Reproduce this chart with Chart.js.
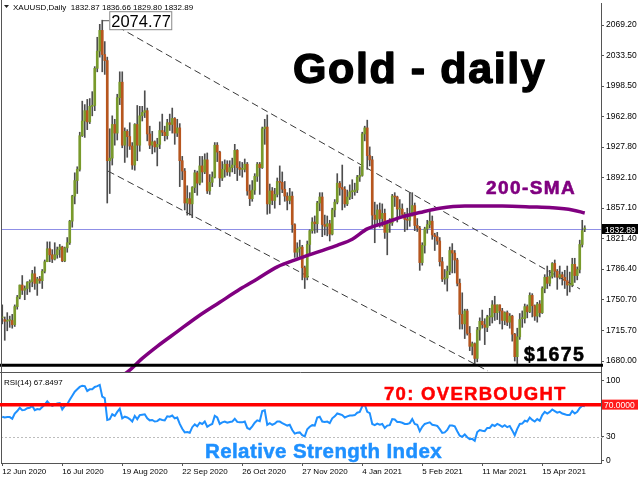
<!DOCTYPE html>
<html>
<head>
<meta charset="utf-8">
<title>Gold - daily</title>
<script src="https://cdn.jsdelivr.net/npm/chart.js@4.4.0/dist/chart.umd.min.js"></script>
<style>
  html, body { margin: 0; padding: 0; background: #fff; }
  #wrap { position: relative; width: 640px; height: 480px; overflow: hidden; }
  canvas { position: absolute; left: 0; }
  #priceChart { top: 0; }
  #rsiChart { top: 372px; }
</style>
</head>
<body>
<div id="wrap">
  <canvas id="priceChart" width="640" height="374"></canvas>
  <canvas id="rsiChart" width="640" height="108"></canvas>
</div>
<script>
// x axis: one label every 24 daily bars, starting at the first bar
var tickLabels = ['12 Jun 2020', '16 Jul 2020', '19 Aug 2020', '22 Sep 2020', '26 Oct 2020',
  '27 Nov 2020', '4 Jan 2021', '5 Feb 2021', '11 Mar 2021', '15 Apr 2021'];
var barsPerLabel = 24;
var slots = 240; // bar slots in the window (last few are the empty shift on the right)

// XAUUSD daily candles, 12 Jun 2020 .. 10 May 2021 (one line per week)
var opens = [
  1730,
  1728, 1726, 1727, 1727, 1722,
  1743, 1754, 1768, 1762, 1764,
  1771, 1772, 1781, 1770, 1775,
  1773, 1784, 1795, 1810, 1803,
  1798, 1803, 1809, 1812, 1796,
  1811, 1817, 1842, 1871, 1889,
  1902, 1941, 1958, 1970, 1957,
  1975, 1976, 2019, 2039, 2063,
  2035, 2028, 1912, 1915, 1954,
  1944, 1985, 2003, 1930, 1946,
  1940, 1929, 1907, 1954, 1930,
  1964, 1968, 1970, 1943, 1930,
  1934, 1928, 1931, 1947, 1945,
  1941, 1956, 1954, 1961, 1944,
  1950, 1912, 1900, 1863, 1868,
  1862, 1881, 1898, 1886, 1906,
  1899, 1913, 1877, 1887, 1893,
  1930, 1922, 1892, 1902, 1908,
  1899, 1904, 1907, 1924, 1904,
  1902, 1902, 1908, 1877, 1868,
  1878, 1894, 1908, 1904, 1949,
  1951, 1862, 1877, 1866, 1873,
  1888, 1887, 1879, 1871, 1866,
  1871, 1838, 1806, 1810, 1812,
  1788, 1777, 1815, 1831, 1841,
  1839, 1863, 1870, 1838, 1836,
  1839, 1827, 1855, 1864, 1886,
  1881, 1879, 1862, 1870,
  1876, 1876, 1878, 1893,
  1895, 1943, 1950, 1918, 1913,
  1849, 1844, 1855, 1845, 1851,
  1829, 1839, 1840, 1871, 1870,
  1856, 1856, 1850, 1844, 1843,
  1848, 1860, 1837, 1834, 1794,
  1814, 1833, 1838, 1842, 1826,
  1824, 1819, 1795, 1775, 1776,
  1784, 1808, 1805, 1797, 1770,
  1734, 1723, 1738, 1712, 1697,
  1700, 1683, 1716, 1726, 1722,
  1719, 1731, 1731, 1745, 1736,
  1745, 1738, 1727, 1736, 1725,
  1732, 1711, 1685, 1708,
  1729, 1729, 1743, 1737, 1756,
  1744, 1732, 1746, 1736, 1764,
  1777, 1770, 1778, 1793, 1784,
  1777, 1780, 1777, 1773, 1768,
  1768, 1792, 1779, 1786, 1815,
  1832.87
];
var highs = [
  1745,
  1731, 1736, 1732, 1734, 1745,
  1756, 1768, 1779, 1767, 1772,
  1774, 1785, 1789, 1777, 1778,
  1786, 1797, 1818, 1818, 1809,
  1817, 1812, 1815, 1813, 1812,
  1823, 1843, 1872, 1898, 1905,
  1945, 1981, 1977, 1983, 1984,
  1992, 2021, 2055, 2070, 2074.77,
  2050, 2032, 1949, 1964, 1960,
  1989, 2015, 2015, 1950, 1948,
  1956, 1933, 1955, 1976, 1975,
  1975, 1993, 1973, 1952, 1946,
  1935, 1938, 1957, 1966, 1952,
  1960, 1966, 1973, 1962, 1960,
  1955, 1917, 1903, 1883, 1875,
  1882, 1901, 1900, 1917, 1917,
  1920, 1921, 1896, 1899, 1933,
  1933, 1923, 1911, 1913, 1912,
  1912, 1915, 1931, 1925, 1911,
  1910, 1914, 1910, 1884, 1889,
  1897, 1910, 1910, 1951, 1960,
  1965, 1885, 1881, 1880, 1892,
  1906, 1899, 1888, 1875, 1880,
  1876, 1839, 1817, 1820, 1814,
  1790, 1819, 1832, 1846, 1848,
  1865, 1875, 1875, 1849, 1848,
  1843, 1857, 1867, 1897, 1888,
  1907, 1882, 1878, 1884,
  1890, 1886, 1895, 1905,
  1945, 1952, 1959, 1928, 1917,
  1864, 1861, 1863, 1862, 1856,
  1840, 1845, 1873, 1875, 1871,
  1867, 1862, 1852, 1857, 1875,
  1875, 1863, 1845, 1836, 1817,
  1835, 1843, 1855, 1848, 1828,
  1829, 1823, 1800, 1786, 1790,
  1812, 1816, 1808, 1799, 1775,
  1759, 1740, 1740, 1720, 1702,
  1701, 1719, 1730, 1739, 1729,
  1733, 1741, 1750, 1755, 1745,
  1745, 1741, 1737, 1738, 1735,
  1733, 1712, 1718, 1735,
  1738, 1746, 1745, 1759, 1758,
  1745, 1748, 1750, 1766, 1780,
  1790, 1785, 1794, 1797, 1786,
  1790, 1783, 1785, 1790, 1783,
  1799, 1799, 1789, 1820, 1843,
  1836.66
];
var lows = [
  1723,
  1704, 1715, 1719, 1718, 1720,
  1740, 1752, 1757, 1751, 1757,
  1760, 1766, 1763, 1756, 1770,
  1764, 1782, 1795, 1795, 1794,
  1797, 1799, 1800, 1795, 1795,
  1806, 1815, 1835, 1862, 1874,
  1900, 1940, 1939, 1948, 1955,
  1964, 1970, 2015, 2032, 2015,
  2012, 1863, 1874, 1907, 1930,
  1936, 1977, 1927, 1910, 1916,
  1925, 1902, 1901, 1912, 1923,
  1958, 1962, 1935, 1926, 1920,
  1922, 1906, 1926, 1941, 1935,
  1937, 1947, 1944, 1931, 1940,
  1882, 1890, 1855, 1849, 1849,
  1846, 1875, 1872, 1884, 1887,
  1897, 1874, 1873, 1882, 1892,
  1911, 1882, 1889, 1893, 1895,
  1894, 1899, 1897, 1889, 1895,
  1893, 1899, 1872, 1860, 1865,
  1873, 1888, 1873, 1903, 1931,
  1850, 1851, 1861, 1857, 1870,
  1861, 1875, 1865, 1855, 1862,
  1829, 1800, 1800, 1801, 1774,
  1764, 1774, 1804, 1828, 1828,
  1829, 1854, 1824, 1826, 1825,
  1819, 1826, 1847, 1862, 1872,
  1855, 1858, 1860, 1867,
  1868, 1872, 1875, 1888,
  1894, 1935, 1902, 1906, 1834,
  1817, 1836, 1835, 1836, 1822,
  1803, 1829, 1837, 1859, 1841,
  1847, 1846, 1830, 1832, 1836,
  1848, 1831, 1830, 1785, 1791,
  1805, 1828, 1834, 1821, 1808,
  1815, 1790, 1772, 1769, 1761,
  1780, 1782, 1782, 1767, 1717,
  1717, 1706, 1710, 1692, 1687,
  1676, 1679, 1704, 1718, 1699,
  1714, 1721, 1724, 1727, 1728,
  1723, 1717, 1722, 1721, 1718,
  1703, 1680, 1677, 1705,
  1719, 1724, 1730, 1736, 1731,
  1727, 1725, 1731, 1735, 1759,
  1764, 1767, 1776, 1777, 1763,
  1775, 1768, 1764, 1756, 1760,
  1766, 1771, 1774, 1782, 1812,
  1829.80
];
var closes = [
  1730,
  1726, 1727, 1727, 1722, 1743,
  1754, 1768, 1762, 1764, 1771,
  1772, 1781, 1770, 1775, 1773,
  1784, 1795, 1810, 1803, 1798,
  1803, 1809, 1812, 1796, 1811,
  1817, 1842, 1871, 1889, 1902,
  1941, 1958, 1970, 1957, 1975,
  1976, 2019, 2039, 2063, 2035,
  2028, 1912, 1915, 1954, 1944,
  1985, 2003, 1930, 1946, 1940,
  1929, 1907, 1954, 1930, 1964,
  1968, 1970, 1943, 1930, 1934,
  1928, 1931, 1947, 1945, 1941,
  1956, 1954, 1961, 1944, 1950,
  1912, 1900, 1863, 1868, 1862,
  1881, 1898, 1886, 1906, 1899,
  1913, 1877, 1887, 1893, 1930,
  1922, 1892, 1902, 1908, 1899,
  1904, 1907, 1924, 1904, 1902,
  1902, 1908, 1877, 1868, 1878,
  1894, 1908, 1904, 1949, 1951,
  1862, 1877, 1866, 1873, 1888,
  1887, 1879, 1871, 1866, 1871,
  1838, 1806, 1810, 1812, 1788,
  1777, 1815, 1831, 1841, 1839,
  1863, 1870, 1838, 1836, 1839,
  1827, 1855, 1864, 1886, 1881,
  1879, 1862, 1870, 1876,
  1876, 1878, 1893, 1895,
  1943, 1950, 1918, 1913, 1849,
  1844, 1855, 1845, 1851, 1829,
  1839, 1840, 1871, 1870, 1856,
  1856, 1850, 1844, 1843, 1848,
  1860, 1837, 1834, 1794, 1814,
  1833, 1838, 1842, 1826, 1824,
  1819, 1795, 1775, 1776, 1784,
  1808, 1805, 1797, 1770, 1734,
  1723, 1738, 1712, 1697, 1700,
  1683, 1716, 1726, 1722, 1719,
  1731, 1731, 1745, 1736, 1745,
  1738, 1727, 1736, 1725, 1732,
  1711, 1685, 1708, 1728,
  1729, 1743, 1737, 1756, 1744,
  1732, 1746, 1736, 1764, 1777,
  1770, 1778, 1793, 1784, 1777,
  1780, 1777, 1773, 1768, 1768,
  1792, 1779, 1786, 1815, 1831,
  1832.89
];

// RSI(14), one value per bar
var rsi = [
  55,
  54, 54.5, 54.5, 52.5, 59,
  62, 66, 63, 63.5, 65.5,
  66, 68.5, 63, 64.5, 64,
  67, 70, 74, 70.5, 68.5,
  70, 71.5, 72, 64, 68.5,
  70.5, 76, 81, 86, 89,
  92, 93.5, 93, 87, 89,
  89, 92, 93, 94.5, 80,
  78, 51, 52, 58, 56,
  61, 65, 53, 55, 54,
  52, 49, 56, 52, 57,
  57.5, 58, 53, 50.5, 51,
  49, 49.5, 52, 51, 50.5,
  55.5, 55, 56.5, 53, 54,
  46, 40, 35.5, 36, 35,
  42, 45.5, 43, 47.5, 46,
  49, 42.5, 44.5, 46, 56,
  54, 46, 48, 49, 47.5,
  48.5, 49, 52.5, 48.5, 48,
  48, 49, 41, 39.5, 43,
  47.5, 50.5, 49.5, 62, 63,
  45, 47, 45, 46.5, 49,
  49, 47, 45.5, 44, 45,
  38.5, 34, 35, 35.5, 32,
  30.5, 39.5, 42.5, 44.5, 44,
  54, 55, 49, 48.5, 49,
  47, 53, 55.5, 59, 58,
  57, 54, 55.5, 56.5,
  56.5, 57, 60, 61,
  68, 70, 61, 59.5, 46,
  44.5, 46.5, 45, 46, 41,
  44, 44.5, 52, 51.5, 48.5,
  48.5, 47.5, 46, 46, 47,
  52, 46, 45, 37, 42.5,
  46, 47, 48, 45, 44.5,
  43.5, 39.5, 35, 35.5, 38.5,
  44, 44, 43, 37, 31.5,
  30, 33, 29.5, 27, 27.5,
  25, 36, 38.5, 37.5, 37,
  41, 41, 45, 43.5, 46,
  44.5, 42.5, 44.5, 42, 43.5,
  38, 32, 40, 46,
  46.5, 50, 49, 54, 51,
  49, 52, 50, 57, 61,
  59, 61, 64, 62, 60,
  61, 59, 58, 57, 57,
  62, 59, 61, 66, 68.5,
  67.8497
];

// 200-SMA at these bars
var smaBars = [44, 50, 56, 62, 70, 78, 87, 95, 102, 110, 118, 127, 134,
  140, 146, 154, 160, 167, 175, 185, 200, 212, 220, 228, 233];
var smaValues = [1656, 1667, 1683, 1697, 1714, 1731, 1748, 1763, 1775, 1789, 1798, 1807, 1814,
  1821, 1833, 1841, 1847, 1852, 1857, 1859.5, 1859.5, 1858.5, 1857.5, 1855, 1851.5];

var priceTicks = [2069.20, 2033.50, 1998.50, 1962.80, 1927.80, 1892.10, 1857.10,
  1821.40, 1786.40, 1750.70, 1715.70, 1680.00];
var rsiTicks = [100, 70, 30, 0];

var lastPrice = 1832.89;
var peakBar = 40;
var peakPrice = 2074.77;
var supportPrice = 1675;
// trend channel: [bar, price, bar, price]
var channelTop = [46.3, 2067, 231.1, 1763.4];
var channelBottom = [42.3, 1900, 194.3, 1668.4];

var labels = [];
for (var i = 0; i < slots; i++) labels.push(i);

var upColor = '#799a2b';
var downColor = '#b7561f';
var FONT = '"Liberation Sans", Arial, sans-serif';

function text(ctx, str, x, y, font, color, spacing, stroke) {
  ctx.font = font;
  ctx.fillStyle = color;
  ctx.letterSpacing = (spacing || 0) + 'px';
  ctx.textAlign = 'left';
  ctx.textBaseline = 'alphabetic';
  ctx.fillText(str, x, y);
  if (stroke) {
    // heavier strokes, like the original's black-weight lettering
    ctx.strokeStyle = color;
    ctx.lineWidth = stroke;
    ctx.lineJoin = 'round';
    ctx.strokeText(str, x, y);
  }
  ctx.letterSpacing = '0px';
}

var priceDecor = {
  id: 'priceDecor',
  beforeDatasetsDraw: function (chart) {
    var ctx = chart.ctx, a = chart.chartArea, x = chart.scales.x, y = chart.scales.y;
    ctx.save();
    var py = Math.round(y.getPixelForValue(lastPrice)) + 0.5;
    ctx.strokeStyle = '#8f8fe6';
    ctx.lineWidth = 1;
    ctx.beginPath(); ctx.moveTo(a.left, py); ctx.lineTo(a.right, py); ctx.stroke();

    ctx.setLineDash([7, 4]);
    ctx.strokeStyle = '#3a3a3a';
    [channelTop, channelBottom].forEach(function (l) {
      ctx.beginPath();
      ctx.moveTo(x.getPixelForValue(l[0]), y.getPixelForValue(l[1]));
      ctx.lineTo(x.getPixelForValue(l[2]), y.getPixelForValue(l[3]));
      ctx.stroke();
    });
    ctx.restore();
  },
  afterDraw: function (chart) {
    var ctx = chart.ctx, a = chart.chartArea, x = chart.scales.x, y = chart.scales.y;
    ctx.save();

    // $1675 support line
    var sy = y.getPixelForValue(supportPrice);
    ctx.strokeStyle = '#000';
    ctx.lineWidth = 3;
    ctx.beginPath(); ctx.moveTo(0, sy); ctx.lineTo(a.right + 2, sy); ctx.stroke();

    // left frame
    ctx.lineWidth = 1;
    ctx.strokeStyle = '#555';
    ctx.beginPath(); ctx.moveTo(a.left + 0.5, 0); ctx.lineTo(a.left + 0.5, a.bottom); ctx.stroke();

    // last price tag on the axis
    var py = Math.round(y.getPixelForValue(lastPrice));
    ctx.fillStyle = '#000';
    ctx.fillRect(a.right + 1, py - 5, 36, 10);
    text(ctx, lastPrice.toFixed(2), a.right + 4, py + 3.5, '8.5px ' + FONT, '#fff');

    // peak price label
    var kx = x.getPixelForValue(peakBar), ky = y.getPixelForValue(peakPrice);
    ctx.strokeStyle = '#555';
    ctx.lineWidth = 1;
    ctx.beginPath(); ctx.moveTo(kx, ky + 0.5); ctx.lineTo(kx + 7, ky + 0.5); ctx.stroke();
    ctx.fillStyle = '#fff';
    ctx.fillRect(kx + 7, ky - 9, 62, 18);
    ctx.strokeStyle = '#888';
    ctx.strokeRect(kx + 7.5, ky - 8.5, 62, 18);
    text(ctx, peakPrice.toFixed(2), kx + 9, ky + 6.5, '16.5px ' + FONT, '#000');

    // header
    ctx.fillStyle = '#222';
    ctx.beginPath(); ctx.moveTo(4, 5); ctx.lineTo(9, 5); ctx.lineTo(6.5, 8); ctx.closePath(); ctx.fill();
    text(ctx, 'XAUUSD,Daily  1832.87 1836.66 1829.80 1832.89', 13, 10, '8px ' + FONT, '#000');

    // annotations
    text(ctx, 'Gold - daily', 293, 83, 'bold 43px ' + FONT, '#000', 1.6, 1.4);
    text(ctx, '200-SMA', 486, 194, 'bold 19px ' + FONT, '#800080', 1.4, 0.6);
    text(ctx, '$1675', 524, 360.5, 'bold 19.5px ' + FONT, '#000', 1.4, 0.6);
    ctx.restore();
  }
};

var rsiDecor = {
  id: 'rsiDecor',
  beforeDatasetsDraw: function (chart) {
    var ctx = chart.ctx, a = chart.chartArea, y = chart.scales.y;
    ctx.save();
    var y30 = Math.round(y.getPixelForValue(30)) + 0.5;
    ctx.strokeStyle = '#bdbdbd';
    ctx.lineWidth = 1;
    ctx.setLineDash([2, 2]);
    ctx.beginPath(); ctx.moveTo(a.left, y30); ctx.lineTo(a.right + 3, y30); ctx.stroke();
    ctx.restore();
  },
  afterDraw: function (chart) {
    var ctx = chart.ctx, a = chart.chartArea, y = chart.scales.y;
    ctx.save();
    // frame
    ctx.strokeStyle = '#555';
    ctx.lineWidth = 1;
    ctx.beginPath(); ctx.moveTo(0, 0.5); ctx.lineTo(a.right, 0.5); ctx.stroke();
    ctx.beginPath(); ctx.moveTo(a.left + 0.5, 0); ctx.lineTo(a.left + 0.5, a.bottom); ctx.stroke();

    // overbought level
    var y70 = y.getPixelForValue(70);
    ctx.strokeStyle = '#ff0000';
    ctx.lineWidth = 3.5;
    ctx.beginPath(); ctx.moveTo(0, y70); ctx.lineTo(a.right, y70); ctx.stroke();
    ctx.fillStyle = '#ff1a1a';
    ctx.fillRect(a.right + 1, y70 - 5, 36, 10);
    text(ctx, '70.0000', a.right + 3, y70 + 3.5, '8.5px ' + FONT, '#fff');

    text(ctx, 'RSI(14) 67.8497', 4, 13, '8px ' + FONT, '#000');
    text(ctx, '70: OVERBOUGHT', 384, 28, 'bold 18.5px ' + FONT, '#ff0000', 1.3, 0.5);
    text(ctx, 'Relative Strength Index', 205, 86, 'bold 20.5px ' + FONT, '#1e90ff', 0.4, 0.5);
    ctx.restore();
  }
};

new Chart(document.getElementById('priceChart'), {
  type: 'bar',
  data: {
    labels: labels,
    datasets: [
      {
        type: 'line',
        label: '200-SMA',
        data: smaBars.map(function (b, i) { return { x: b, y: smaValues[i] }; }),
        borderColor: '#800080',
        borderWidth: 3.5,
        pointRadius: 0,
        cubicInterpolationMode: 'monotone',
        order: 0
      },
      {
        label: 'body',
        data: opens.map(function (o, i) { return [o, closes[i]]; }),
        backgroundColor: function (c) { return closes[c.dataIndex] >= opens[c.dataIndex] ? upColor : downColor; },
        barThickness: 2,
        minBarLength: 1,
        grouped: false,
        order: 1
      },
      {
        label: 'wick',
        data: lows.map(function (l, i) { return [l, highs[i]]; }),
        backgroundColor: '#4d4d4d',
        barThickness: 1,
        grouped: false,
        order: 2
      }
    ]
  },
  options: {
    responsive: false,
    animation: false,
    layout: { padding: { left: 1, top: 3, right: 0, bottom: 1 } },
    plugins: { legend: { display: false }, tooltip: { enabled: false } },
    scales: {
      x: { type: 'category', display: false, offset: true },
      y: {
        position: 'right',
        min: 1666.1,
        max: 2094.7,
        afterBuildTicks: function (s) { s.ticks = priceTicks.map(function (v) { return { value: v }; }); },
        afterFit: function (s) { s.width = 39; s.paddingTop = 0; s.paddingBottom = 0; },
        ticks: {
          color: '#000',
          padding: 2,
          font: { family: FONT, size: 8.5 },
          callback: function (v) { return v.toFixed(2); }
        },
        grid: { drawOnChartArea: false, tickLength: 3, color: '#555' },
        border: { color: '#555' }
      }
    }
  },
  plugins: [priceDecor]
});

new Chart(document.getElementById('rsiChart'), {
  type: 'line',
  data: {
    labels: labels,
    datasets: [{
      label: 'RSI(14)',
      data: rsi,
      borderColor: '#1e90ff',
      borderWidth: 2,
      pointRadius: 0,
      tension: 0
    }]
  },
  options: {
    responsive: false,
    animation: false,
    layout: { padding: { left: 1, top: 1, right: 0, bottom: 0 } },
    plugins: { legend: { display: false }, tooltip: { enabled: false } },
    scales: {
      x: {
        type: 'category',
        offset: true,
        afterFit: function (s) { s.height = 17; s.paddingLeft = 0; s.paddingRight = 0; },
        ticks: {
          autoSkip: false,
          maxRotation: 0,
          align: 'start',
          padding: 1,
          color: '#000',
          font: { family: FONT, size: 8 },
          callback: function (v, idx) {
            return idx % barsPerLabel === 0 && tickLabels[idx / barsPerLabel] ? tickLabels[idx / barsPerLabel] : '';
          }
        },
        grid: {
          drawOnChartArea: false,
          offset: false,
          tickLength: 3,
          color: function (c) {
            return c.tick && c.tick.value % barsPerLabel === 0 && tickLabels[c.tick.value / barsPerLabel] ? '#555' : 'rgba(0,0,0,0)';
          }
        },
        border: { color: '#555' }
      },
      y: {
        position: 'right',
        min: -2.5,
        max: 109.3,
        afterBuildTicks: function (s) { s.ticks = rsiTicks.map(function (v) { return { value: v }; }); },
        afterFit: function (s) { s.width = 39; s.paddingTop = 0; s.paddingBottom = 0; },
        ticks: {
          color: '#000',
          padding: 2,
          font: { family: FONT, size: 8.5 },
          callback: function (v) { return v === 70 ? '' : String(v); }
        },
        grid: { drawOnChartArea: false, tickLength: 3, color: '#555' },
        border: { color: '#555' }
      }
    }
  },
  plugins: [rsiDecor]
});
</script>
</body>
</html>
